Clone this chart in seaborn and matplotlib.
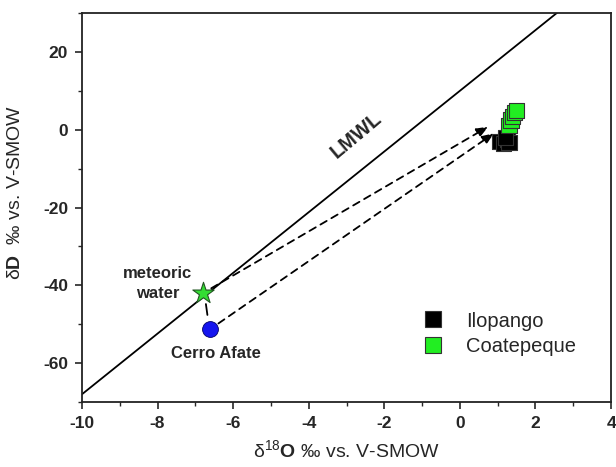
import numpy as np
import pandas as pd
import matplotlib
matplotlib.use('Agg')
import matplotlib.pyplot as plt
import seaborn as sns

# values
lmwl_x = [-10, 2.6]
lmwl_y = [-68.0, 30.3]

ilopango_x = [1.05, 1.15, 1.25, 1.3, 1.2]
ilopango_y = [-3.0, -3.5, -2.5, -3.2, -2.0]
coatepeque_x = [1.3, 1.35, 1.4, 1.45, 1.5]
coatepeque_y = [1.0, 2.5, 3.5, 4.5, 5.0]

meteoric = (-6.8, -42.0)
cerro_afate = (-6.6, -51.2)
arrow_ends = [(0.75, 0.8), (0.9, -0.9)]

sns.set_style('ticks')
plt.rcParams['font.family'] = ['Liberation Sans', 'DejaVu Sans']
plt.rcParams['mathtext.fontset'] = 'custom'
plt.rcParams['mathtext.rm'] = 'Liberation Sans'
plt.rcParams['mathtext.bf'] = 'Liberation Sans:bold'
plt.rcParams['axes.unicode_minus'] = False

df = pd.DataFrame({
    'x': ilopango_x + coatepeque_x,
    'y': ilopango_y + coatepeque_y,
    'site': ['Ilopango'] * len(ilopango_x) + ['Coatepeque'] * len(coatepeque_x),
})

fig = plt.figure(figsize=(6.16, 4.67), dpi=100)
ax = fig.add_axes([0.133, 0.139, 0.859, 0.833])

sns.lineplot(x=lmwl_x, y=lmwl_y, color='black', lw=1.3, ax=ax)

# arrows from the two sources to the lake waters
for (x0, y0), (x1, y1) in zip([meteoric, cerro_afate], arrow_ends):
    ax.annotate('', xy=(x1, y1), xytext=(x0, y0),
                arrowprops=dict(arrowstyle='-|>,head_length=0.5,head_width=0.2',
                                ls=(0, (4, 3)), lw=1.3,
                                color='black', mutation_scale=14,
                                shrinkA=7, shrinkB=0))
ax.plot([-6.72, -6.68], [-44.8, -47.6], color='black', lw=1.3)

sns.scatterplot(data=df, x='x', y='y', hue='site', marker='s', s=120,
                palette={'Ilopango': 'black', 'Coatepeque': '#22ee22'},
                edgecolor='#333333', linewidth=0.8, ax=ax, zorder=5)

ax.scatter([meteoric[0]], [meteoric[1]], marker='*', s=260, color='#33dd33',
           edgecolor='#225522', linewidth=0.8, zorder=6)
ax.scatter([cerro_afate[0]], [cerro_afate[1]], marker='o', s=130, color='#1515ee',
           edgecolor='#000066', linewidth=0.6, zorder=6)

ax.text(-8.0, -39.5, 'meteoric\nwater', fontsize=12, fontweight='bold',
        ha='center', va='center', linespacing=1.35)
ax.text(-6.45, -57.6, 'Cerro Afate', fontsize=12, fontweight='bold',
        ha='center', va='center')
ax.text(-2.75, -1.5, 'LMWL', fontsize=14.5, fontweight='bold', rotation=40,
        ha='center', va='center')

ax.set_xlim(-10, 4)
ax.set_ylim(-70, 30)
ax.set_xticks(range(-10, 5, 2))
ax.set_xticks(range(-9, 4, 2), minor=True)
ax.set_yticks(range(-60, 30, 20))
ax.set_yticks(range(-70, 31, 20), minor=True)
ax.tick_params(which='major', direction='out', length=5, width=1.2,
               labelsize=12.5, pad=5)
ax.tick_params(which='minor', direction='out', length=3, width=1.0)
for lab in ax.get_xticklabels() + ax.get_yticklabels():
    lab.set_fontweight('bold')
for sp in ax.spines.values():
    sp.set_linewidth(1.3)
    sp.set_color('#222222')

ax.set_xlabel('δ$^{18}$$\\mathbf{O}$ ‰ vs. V-SMOW', fontsize=14, labelpad=6)
ax.set_ylabel('δ$\\mathbf{D}$  ‰ vs. V-SMOW', fontsize=14)
ax.yaxis.set_label_coords(-0.11, 0.54)

leg = ax.legend(loc='lower left', bbox_to_anchor=(0.592, 0.073), frameon=False,
                fontsize=14.5, handletextpad=0.6, markerscale=1.0, labelspacing=0.3)

fig.savefig('out.png', dpi=100)
